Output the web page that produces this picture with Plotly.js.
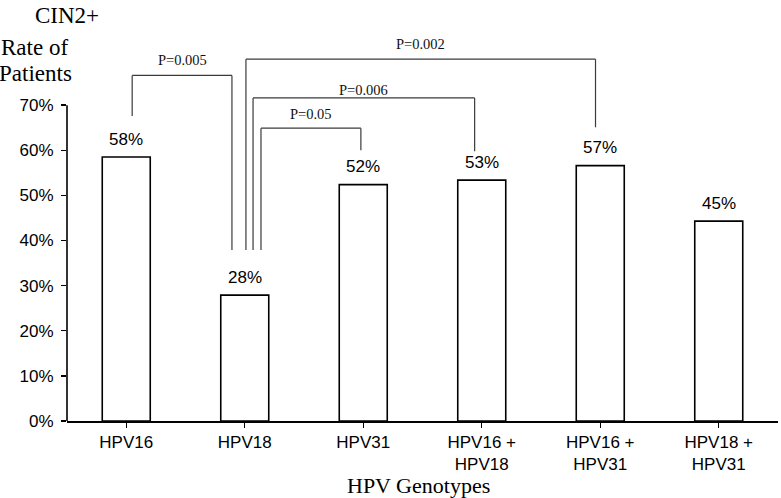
<!DOCTYPE html>
<html>
<head>
<meta charset="utf-8">
<script src="https://cdn.plot.ly/plotly-3.0.1.min.js"></script>
<style>html,body{margin:0;padding:0;background:#fff;}#chart{width:781px;height:498px;}</style>
</head>
<body>
<div id="chart"></div>
<script>
// Categories and values
var categories = ["HPV16", "HPV18", "HPV31", "HPV16 +<br>HPV18", "HPV16 +<br>HPV31", "HPV18 +<br>HPV31"];
var rates = [58.5, 27.9, 52.4, 53.4, 56.6, 44.3];
var rateLabels = ["58%", "28%", "52%", "53%", "57%", "45%"];
var yTicks = [0, 10, 20, 30, 40, 50, 60, 70];
var yTickLabels = ["0%", "10%", "20%", "30%", "40%", "50%", "60%", "70%"];

// Significance brackets (category index positions, heights in % units)
var pLabels = ["P=0.005", "P=0.002", "P=0.006", "P=0.05"];
var pFrom = [0.05, 1.01, 1.07, 1.137];
var pTo = [0.892, 3.96, 2.94, 1.98];
var pTop = [76.6, 80.2, 71.6, 64.9];
var pFromEnd = [67.6, 37.9, 37.9, 37.9];
var pToEnd = [37.9, 65.1, 59.8, 60.0];
var pTextY = [80.0, 83.6, 73.3, 68.1];

var idx = categories.map(function (c, i) { return i; });

var trace = {
  type: "bar",
  x: idx,
  y: rates,
  marker: { color: "#ffffff", line: { color: "#000000", width: 1.6 } },
  hoverinfo: "none"
};

var serif = "Liberation Serif, Times New Roman, serif";
var sans = "Liberation Sans, Arial, sans-serif";

var shapes = [];
var annotations = [];
var bracketColor = "#3a3a3a";
for (var i = 0; i < pLabels.length; i++) {
  shapes.push({ type: "line", xref: "x", yref: "y", x0: pFrom[i], x1: pFrom[i], y0: pFromEnd[i], y1: pTop[i], line: { color: bracketColor, width: 1.2 } });
  shapes.push({ type: "line", xref: "x", yref: "y", x0: pFrom[i], x1: pTo[i], y0: pTop[i], y1: pTop[i], line: { color: bracketColor, width: 1.2 } });
  shapes.push({ type: "line", xref: "x", yref: "y", x0: pTo[i], x1: pTo[i], y0: pTop[i], y1: pToEnd[i], line: { color: bracketColor, width: 1.2 } });
  annotations.push({
    xref: "x", yref: "y", x: (pFrom[i] + pTo[i]) / 2, y: pTextY[i],
    text: pLabels[i], showarrow: false, yanchor: "middle", xanchor: "center",
    font: { family: serif, size: 14.5, color: "#111" }
  });
}
// y-axis line only up to 70%
shapes.push({ type: "line", xref: "paper", yref: "y", x0: 0, x1: 0, y0: 0, y1: yTicks[yTicks.length - 1], line: { color: "#000", width: 1.6 } });

for (var j = 0; j < rates.length; j++) {
  annotations.push({
    xref: "x", yref: "y", x: idx[j], y: rates[j], text: rateLabels[j],
    showarrow: false, yanchor: "middle", xanchor: "center", yshift: 18,
    font: { family: sans, size: 17, color: "#000" }
  });
}

annotations.push({
  xref: "paper", yref: "paper", x: 0, y: 1.046, text: "CIN2+", showarrow: false,
  xanchor: "center", yanchor: "middle",
  font: { family: serif, size: 23, color: "#000" }
});
annotations.push({
  xref: "paper", yref: "paper", x: -0.046, y: 0.963, text: "Rate of", showarrow: false,
  xanchor: "center", yanchor: "middle",
  font: { family: serif, size: 23, color: "#000" }
});
annotations.push({
  xref: "paper", yref: "paper", x: -0.044, y: 0.896, text: "Patients", showarrow: false,
  xanchor: "center", yanchor: "middle",
  font: { family: serif, size: 23, color: "#000" }
});
annotations.push({
  xref: "paper", yref: "paper", x: 0.494, y: -0.1675, text: "HPV Genotypes", showarrow: false,
  xanchor: "center", yanchor: "middle",
  font: { family: serif, size: 22, color: "#000" }
});

var layout = {
  width: 781,
  height: 498,
  margin: { l: 67, r: 3, t: 33, b: 77, pad: 0 },
  paper_bgcolor: "#ffffff",
  plot_bgcolor: "#ffffff",
  showlegend: false,
  bargap: 0.595,
  xaxis: {
    range: [-0.5, 5.5],
    tickmode: "array",
    tickvals: idx,
    ticktext: categories,
    tickson: "boundaries",
    ticks: "outside",
    ticklen: 5,
    tickwidth: 1.4,
    tickcolor: "#000",
    showline: true,
    linecolor: "#000",
    linewidth: 1.6,
    showgrid: false,
    zeroline: false,
    fixedrange: true,
    tickfont: { family: sans, size: 17, color: "#000" }
  },
  yaxis: {
    range: [0, 86],
    tickmode: "array",
    tickvals: yTicks,
    ticktext: yTickLabels,
    ticks: "outside",
    ticklen: 5,
    tickwidth: 1.4,
    tickcolor: "#000",
    ticklabelstandoff: 4,
    showline: false,
    showgrid: false,
    zeroline: false,
    fixedrange: true,
    tickfont: { family: sans, size: 17, color: "#000" }
  },
  shapes: shapes,
  annotations: annotations
};

Plotly.newPlot("chart", [trace], layout, { displayModeBar: false, staticPlot: true });
</script>
</body>
</html>
